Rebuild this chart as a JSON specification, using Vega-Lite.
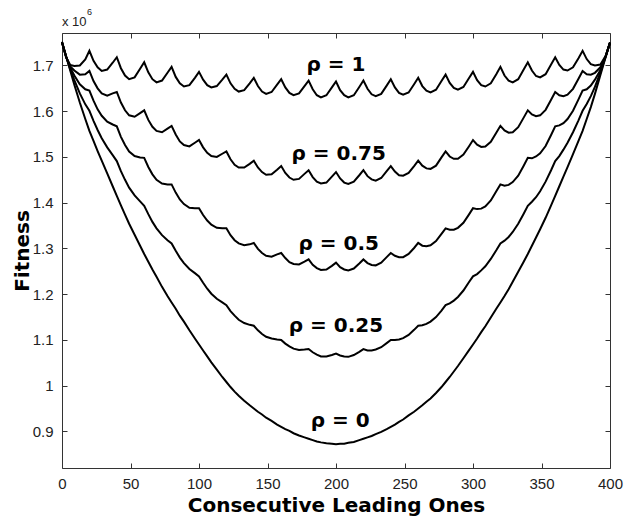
{
"$schema":"https://vega.github.io/schema/vega-lite/v6.json",
"width":548,"height":435,
"autosize":"none",
"padding":{"left":62,"top":33,"right":14,"bottom":50},
"background":"white",
"config":{"view":{"stroke":null},"font":"Liberation Sans"},
"datasets":{
"curves":[
{"s":"1","x":0,"y":1.752},{"s":"1","x":3,"y":1.718},{"s":"1","x":6,"y":1.701},{"s":"1","x":9,"y":1.699},{"s":"1","x":13,"y":1.700},{"s":"1","x":17,"y":1.713},{"s":"1","x":20,"y":1.732},
{"s":"1","x":23,"y":1.710},{"s":"1","x":26,"y":1.696},{"s":"1","x":29,"y":1.688},{"s":"1","x":33,"y":1.691},{"s":"1","x":37,"y":1.706},{"s":"1","x":40,"y":1.718},
{"s":"1","x":43,"y":1.694},{"s":"1","x":46,"y":1.678},{"s":"1","x":49,"y":1.670},{"s":"1","x":53,"y":1.674},{"s":"1","x":57,"y":1.693},{"s":"1","x":60,"y":1.707},
{"s":"1","x":63,"y":1.685},{"s":"1","x":66,"y":1.670},{"s":"1","x":69,"y":1.663},{"s":"1","x":73,"y":1.667},{"s":"1","x":77,"y":1.684},{"s":"1","x":80,"y":1.697},
{"s":"1","x":83,"y":1.675},{"s":"1","x":86,"y":1.661},{"s":"1","x":89,"y":1.654},{"s":"1","x":93,"y":1.657},{"s":"1","x":97,"y":1.673},{"s":"1","x":100,"y":1.686},
{"s":"1","x":103,"y":1.669},{"s":"1","x":106,"y":1.657},{"s":"1","x":109,"y":1.652},{"s":"1","x":113,"y":1.655},{"s":"1","x":117,"y":1.669},{"s":"1","x":120,"y":1.680},
{"s":"1","x":123,"y":1.661},{"s":"1","x":126,"y":1.649},{"s":"1","x":129,"y":1.643},{"s":"1","x":133,"y":1.646},{"s":"1","x":137,"y":1.661},{"s":"1","x":140,"y":1.673},
{"s":"1","x":143,"y":1.655},{"s":"1","x":146,"y":1.643},{"s":"1","x":149,"y":1.638},{"s":"1","x":153,"y":1.642},{"s":"1","x":157,"y":1.658},{"s":"1","x":160,"y":1.670},
{"s":"1","x":163,"y":1.652},{"s":"1","x":166,"y":1.640},{"s":"1","x":169,"y":1.635},{"s":"1","x":173,"y":1.639},{"s":"1","x":177,"y":1.655},{"s":"1","x":180,"y":1.667},
{"s":"1","x":183,"y":1.648},{"s":"1","x":186,"y":1.635},{"s":"1","x":189,"y":1.630},{"s":"1","x":193,"y":1.635},{"s":"1","x":197,"y":1.652},{"s":"1","x":200,"y":1.665},
{"s":"1","x":203,"y":1.646},{"s":"1","x":206,"y":1.635},{"s":"1","x":209,"y":1.630},{"s":"1","x":213,"y":1.635},{"s":"1","x":217,"y":1.653},{"s":"1","x":220,"y":1.667},
{"s":"1","x":223,"y":1.649},{"s":"1","x":226,"y":1.637},{"s":"1","x":229,"y":1.633},{"s":"1","x":233,"y":1.638},{"s":"1","x":237,"y":1.656},{"s":"1","x":240,"y":1.670},
{"s":"1","x":243,"y":1.652},{"s":"1","x":246,"y":1.640},{"s":"1","x":249,"y":1.636},{"s":"1","x":253,"y":1.641},{"s":"1","x":257,"y":1.659},{"s":"1","x":260,"y":1.673},
{"s":"1","x":263,"y":1.655},{"s":"1","x":266,"y":1.645},{"s":"1","x":269,"y":1.641},{"s":"1","x":273,"y":1.647},{"s":"1","x":277,"y":1.666},{"s":"1","x":280,"y":1.680},
{"s":"1","x":283,"y":1.662},{"s":"1","x":286,"y":1.651},{"s":"1","x":289,"y":1.647},{"s":"1","x":293,"y":1.653},{"s":"1","x":297,"y":1.672},{"s":"1","x":300,"y":1.686},
{"s":"1","x":303,"y":1.668},{"s":"1","x":306,"y":1.657},{"s":"1","x":309,"y":1.654},{"s":"1","x":313,"y":1.661},{"s":"1","x":317,"y":1.681},{"s":"1","x":320,"y":1.697},
{"s":"1","x":323,"y":1.678},{"s":"1","x":326,"y":1.667},{"s":"1","x":329,"y":1.663},{"s":"1","x":333,"y":1.670},{"s":"1","x":337,"y":1.691},{"s":"1","x":340,"y":1.707},
{"s":"1","x":343,"y":1.689},{"s":"1","x":346,"y":1.677},{"s":"1","x":349,"y":1.674},{"s":"1","x":353,"y":1.681},{"s":"1","x":357,"y":1.702},{"s":"1","x":360,"y":1.718},
{"s":"1","x":363,"y":1.701},{"s":"1","x":366,"y":1.691},{"s":"1","x":369,"y":1.689},{"s":"1","x":373,"y":1.696},{"s":"1","x":377,"y":1.716},{"s":"1","x":380,"y":1.732},
{"s":"1","x":383,"y":1.714},{"s":"1","x":386,"y":1.703},{"s":"1","x":389,"y":1.700},{"s":"1","x":393,"y":1.702},{"s":"1","x":397,"y":1.722},{"s":"1","x":400,"y":1.750},
{"s":"0.75","x":0,"y":1.751},{"s":"0.75","x":3,"y":1.718},{"s":"0.75","x":6,"y":1.698},{"s":"0.75","x":9,"y":1.689},{"s":"0.75","x":13,"y":1.680},{"s":"0.75","x":17,"y":1.681},{"s":"0.75","x":20,"y":1.688},
{"s":"0.75","x":23,"y":1.666},{"s":"0.75","x":26,"y":1.650},{"s":"0.75","x":29,"y":1.639},{"s":"0.75","x":33,"y":1.634},{"s":"0.75","x":37,"y":1.639},{"s":"0.75","x":40,"y":1.642},
{"s":"0.75","x":43,"y":1.619},{"s":"0.75","x":46,"y":1.602},{"s":"0.75","x":49,"y":1.591},{"s":"0.75","x":53,"y":1.588},{"s":"0.75","x":57,"y":1.596},{"s":"0.75","x":60,"y":1.602},
{"s":"0.75","x":63,"y":1.581},{"s":"0.75","x":66,"y":1.566},{"s":"0.75","x":69,"y":1.557},{"s":"0.75","x":73,"y":1.554},{"s":"0.75","x":77,"y":1.562},{"s":"0.75","x":80,"y":1.568},
{"s":"0.75","x":83,"y":1.549},{"s":"0.75","x":86,"y":1.534},{"s":"0.75","x":89,"y":1.526},{"s":"0.75","x":93,"y":1.523},{"s":"0.75","x":97,"y":1.531},{"s":"0.75","x":100,"y":1.537},
{"s":"0.75","x":103,"y":1.521},{"s":"0.75","x":106,"y":1.509},{"s":"0.75","x":109,"y":1.502},{"s":"0.75","x":113,"y":1.500},{"s":"0.75","x":117,"y":1.507},{"s":"0.75","x":120,"y":1.512},
{"s":"0.75","x":123,"y":1.495},{"s":"0.75","x":126,"y":1.483},{"s":"0.75","x":129,"y":1.477},{"s":"0.75","x":133,"y":1.477},{"s":"0.75","x":137,"y":1.485},{"s":"0.75","x":140,"y":1.492},
{"s":"0.75","x":143,"y":1.477},{"s":"0.75","x":146,"y":1.467},{"s":"0.75","x":149,"y":1.461},{"s":"0.75","x":153,"y":1.462},{"s":"0.75","x":157,"y":1.472},{"s":"0.75","x":160,"y":1.480},
{"s":"0.75","x":163,"y":1.465},{"s":"0.75","x":166,"y":1.455},{"s":"0.75","x":169,"y":1.450},{"s":"0.75","x":173,"y":1.452},{"s":"0.75","x":177,"y":1.463},{"s":"0.75","x":180,"y":1.471},
{"s":"0.75","x":183,"y":1.456},{"s":"0.75","x":186,"y":1.446},{"s":"0.75","x":189,"y":1.442},{"s":"0.75","x":193,"y":1.444},{"s":"0.75","x":197,"y":1.457},{"s":"0.75","x":200,"y":1.467},
{"s":"0.75","x":203,"y":1.453},{"s":"0.75","x":206,"y":1.444},{"s":"0.75","x":209,"y":1.441},{"s":"0.75","x":213,"y":1.446},{"s":"0.75","x":217,"y":1.460},{"s":"0.75","x":220,"y":1.471},
{"s":"0.75","x":223,"y":1.458},{"s":"0.75","x":226,"y":1.451},{"s":"0.75","x":229,"y":1.448},{"s":"0.75","x":233,"y":1.454},{"s":"0.75","x":237,"y":1.469},{"s":"0.75","x":240,"y":1.480},
{"s":"0.75","x":243,"y":1.468},{"s":"0.75","x":246,"y":1.460},{"s":"0.75","x":249,"y":1.459},{"s":"0.75","x":253,"y":1.465},{"s":"0.75","x":257,"y":1.480},{"s":"0.75","x":260,"y":1.492},
{"s":"0.75","x":263,"y":1.481},{"s":"0.75","x":266,"y":1.475},{"s":"0.75","x":269,"y":1.474},{"s":"0.75","x":273,"y":1.481},{"s":"0.75","x":277,"y":1.499},{"s":"0.75","x":280,"y":1.512},
{"s":"0.75","x":283,"y":1.501},{"s":"0.75","x":286,"y":1.496},{"s":"0.75","x":289,"y":1.496},{"s":"0.75","x":293,"y":1.505},{"s":"0.75","x":297,"y":1.523},{"s":"0.75","x":300,"y":1.537},
{"s":"0.75","x":303,"y":1.527},{"s":"0.75","x":306,"y":1.522},{"s":"0.75","x":309,"y":1.523},{"s":"0.75","x":313,"y":1.533},{"s":"0.75","x":317,"y":1.553},{"s":"0.75","x":320,"y":1.568},
{"s":"0.75","x":323,"y":1.558},{"s":"0.75","x":326,"y":1.553},{"s":"0.75","x":329,"y":1.554},{"s":"0.75","x":333,"y":1.565},{"s":"0.75","x":337,"y":1.586},{"s":"0.75","x":340,"y":1.602},
{"s":"0.75","x":343,"y":1.593},{"s":"0.75","x":346,"y":1.589},{"s":"0.75","x":349,"y":1.591},{"s":"0.75","x":353,"y":1.603},{"s":"0.75","x":357,"y":1.625},{"s":"0.75","x":360,"y":1.642},
{"s":"0.75","x":363,"y":1.635},{"s":"0.75","x":366,"y":1.633},{"s":"0.75","x":369,"y":1.636},{"s":"0.75","x":373,"y":1.649},{"s":"0.75","x":377,"y":1.671},{"s":"0.75","x":380,"y":1.688},
{"s":"0.75","x":383,"y":1.681},{"s":"0.75","x":386,"y":1.680},{"s":"0.75","x":389,"y":1.684},{"s":"0.75","x":393,"y":1.696},{"s":"0.75","x":397,"y":1.722},{"s":"0.75","x":400,"y":1.750},
{"s":"0.5","x":0,"y":1.751},{"s":"0.5","x":3,"y":1.719},{"s":"0.5","x":6,"y":1.695},{"s":"0.5","x":9,"y":1.678},{"s":"0.5","x":13,"y":1.659},{"s":"0.5","x":17,"y":1.648},{"s":"0.5","x":20,"y":1.645},
{"s":"0.5","x":23,"y":1.623},{"s":"0.5","x":26,"y":1.604},{"s":"0.5","x":29,"y":1.590},{"s":"0.5","x":33,"y":1.577},{"s":"0.5","x":37,"y":1.571},{"s":"0.5","x":40,"y":1.567},
{"s":"0.5","x":43,"y":1.544},{"s":"0.5","x":46,"y":1.526},{"s":"0.5","x":49,"y":1.512},{"s":"0.5","x":53,"y":1.502},{"s":"0.5","x":57,"y":1.499},{"s":"0.5","x":60,"y":1.498},
{"s":"0.5","x":63,"y":1.478},{"s":"0.5","x":66,"y":1.462},{"s":"0.5","x":69,"y":1.450},{"s":"0.5","x":73,"y":1.442},{"s":"0.5","x":77,"y":1.440},{"s":"0.5","x":80,"y":1.440},
{"s":"0.5","x":83,"y":1.422},{"s":"0.5","x":86,"y":1.407},{"s":"0.5","x":89,"y":1.397},{"s":"0.5","x":93,"y":1.389},{"s":"0.5","x":97,"y":1.388},{"s":"0.5","x":100,"y":1.388},
{"s":"0.5","x":103,"y":1.373},{"s":"0.5","x":106,"y":1.361},{"s":"0.5","x":109,"y":1.352},{"s":"0.5","x":113,"y":1.345},{"s":"0.5","x":117,"y":1.344},{"s":"0.5","x":120,"y":1.344},
{"s":"0.5","x":123,"y":1.329},{"s":"0.5","x":126,"y":1.318},{"s":"0.5","x":129,"y":1.311},{"s":"0.5","x":133,"y":1.307},{"s":"0.5","x":137,"y":1.309},{"s":"0.5","x":140,"y":1.312},
{"s":"0.5","x":143,"y":1.299},{"s":"0.5","x":146,"y":1.290},{"s":"0.5","x":149,"y":1.284},{"s":"0.5","x":153,"y":1.282},{"s":"0.5","x":157,"y":1.287},{"s":"0.5","x":160,"y":1.290},
{"s":"0.5","x":163,"y":1.279},{"s":"0.5","x":166,"y":1.270},{"s":"0.5","x":169,"y":1.266},{"s":"0.5","x":173,"y":1.265},{"s":"0.5","x":177,"y":1.271},{"s":"0.5","x":180,"y":1.276},
{"s":"0.5","x":183,"y":1.264},{"s":"0.5","x":186,"y":1.257},{"s":"0.5","x":189,"y":1.253},{"s":"0.5","x":193,"y":1.254},{"s":"0.5","x":197,"y":1.262},{"s":"0.5","x":200,"y":1.269},
{"s":"0.5","x":203,"y":1.259},{"s":"0.5","x":206,"y":1.254},{"s":"0.5","x":209,"y":1.252},{"s":"0.5","x":213,"y":1.256},{"s":"0.5","x":217,"y":1.267},{"s":"0.5","x":220,"y":1.276},
{"s":"0.5","x":223,"y":1.268},{"s":"0.5","x":226,"y":1.264},{"s":"0.5","x":229,"y":1.263},{"s":"0.5","x":233,"y":1.269},{"s":"0.5","x":237,"y":1.281},{"s":"0.5","x":240,"y":1.290},
{"s":"0.5","x":243,"y":1.284},{"s":"0.5","x":246,"y":1.281},{"s":"0.5","x":249,"y":1.281},{"s":"0.5","x":253,"y":1.288},{"s":"0.5","x":257,"y":1.301},{"s":"0.5","x":260,"y":1.312},
{"s":"0.5","x":263,"y":1.306},{"s":"0.5","x":266,"y":1.305},{"s":"0.5","x":269,"y":1.307},{"s":"0.5","x":273,"y":1.316},{"s":"0.5","x":277,"y":1.332},{"s":"0.5","x":280,"y":1.344},
{"s":"0.5","x":283,"y":1.341},{"s":"0.5","x":286,"y":1.341},{"s":"0.5","x":289,"y":1.345},{"s":"0.5","x":293,"y":1.356},{"s":"0.5","x":297,"y":1.374},{"s":"0.5","x":300,"y":1.388},
{"s":"0.5","x":303,"y":1.386},{"s":"0.5","x":306,"y":1.387},{"s":"0.5","x":309,"y":1.392},{"s":"0.5","x":313,"y":1.405},{"s":"0.5","x":317,"y":1.425},{"s":"0.5","x":320,"y":1.440},
{"s":"0.5","x":323,"y":1.437},{"s":"0.5","x":326,"y":1.439},{"s":"0.5","x":329,"y":1.445},{"s":"0.5","x":333,"y":1.459},{"s":"0.5","x":337,"y":1.481},{"s":"0.5","x":340,"y":1.498},
{"s":"0.5","x":343,"y":1.497},{"s":"0.5","x":346,"y":1.501},{"s":"0.5","x":349,"y":1.508},{"s":"0.5","x":353,"y":1.524},{"s":"0.5","x":357,"y":1.548},{"s":"0.5","x":360,"y":1.567},
{"s":"0.5","x":363,"y":1.569},{"s":"0.5","x":366,"y":1.574},{"s":"0.5","x":369,"y":1.583},{"s":"0.5","x":373,"y":1.601},{"s":"0.5","x":377,"y":1.626},{"s":"0.5","x":380,"y":1.645},
{"s":"0.5","x":383,"y":1.648},{"s":"0.5","x":386,"y":1.656},{"s":"0.5","x":389,"y":1.669},{"s":"0.5","x":393,"y":1.690},{"s":"0.5","x":397,"y":1.721},{"s":"0.5","x":400,"y":1.750},
{"s":"0.25","x":0,"y":1.751},{"s":"0.25","x":3,"y":1.720},{"s":"0.25","x":6,"y":1.692},{"s":"0.25","x":9,"y":1.668},{"s":"0.25","x":13,"y":1.639},{"s":"0.25","x":17,"y":1.615},{"s":"0.25","x":20,"y":1.601},
{"s":"0.25","x":23,"y":1.579},{"s":"0.25","x":26,"y":1.559},{"s":"0.25","x":29,"y":1.541},{"s":"0.25","x":33,"y":1.521},{"s":"0.25","x":37,"y":1.504},{"s":"0.25","x":40,"y":1.491},
{"s":"0.25","x":43,"y":1.469},{"s":"0.25","x":46,"y":1.450},{"s":"0.25","x":49,"y":1.433},{"s":"0.25","x":53,"y":1.416},{"s":"0.25","x":57,"y":1.403},{"s":"0.25","x":60,"y":1.393},
{"s":"0.25","x":63,"y":1.375},{"s":"0.25","x":66,"y":1.358},{"s":"0.25","x":69,"y":1.344},{"s":"0.25","x":73,"y":1.329},{"s":"0.25","x":77,"y":1.318},{"s":"0.25","x":80,"y":1.311},
{"s":"0.25","x":83,"y":1.295},{"s":"0.25","x":86,"y":1.280},{"s":"0.25","x":89,"y":1.268},{"s":"0.25","x":93,"y":1.255},{"s":"0.25","x":97,"y":1.246},{"s":"0.25","x":100,"y":1.239},
{"s":"0.25","x":103,"y":1.225},{"s":"0.25","x":106,"y":1.212},{"s":"0.25","x":109,"y":1.201},{"s":"0.25","x":113,"y":1.190},{"s":"0.25","x":117,"y":1.182},{"s":"0.25","x":120,"y":1.176},
{"s":"0.25","x":123,"y":1.163},{"s":"0.25","x":126,"y":1.153},{"s":"0.25","x":129,"y":1.144},{"s":"0.25","x":133,"y":1.137},{"s":"0.25","x":137,"y":1.133},{"s":"0.25","x":140,"y":1.131},
{"s":"0.25","x":143,"y":1.121},{"s":"0.25","x":146,"y":1.113},{"s":"0.25","x":149,"y":1.107},{"s":"0.25","x":153,"y":1.103},{"s":"0.25","x":157,"y":1.101},{"s":"0.25","x":160,"y":1.100},
{"s":"0.25","x":163,"y":1.092},{"s":"0.25","x":166,"y":1.086},{"s":"0.25","x":169,"y":1.081},{"s":"0.25","x":173,"y":1.078},{"s":"0.25","x":177,"y":1.079},{"s":"0.25","x":180,"y":1.080},
{"s":"0.25","x":183,"y":1.073},{"s":"0.25","x":186,"y":1.068},{"s":"0.25","x":189,"y":1.064},{"s":"0.25","x":193,"y":1.064},{"s":"0.25","x":197,"y":1.067},{"s":"0.25","x":200,"y":1.070},
{"s":"0.25","x":203,"y":1.066},{"s":"0.25","x":206,"y":1.064},{"s":"0.25","x":209,"y":1.063},{"s":"0.25","x":213,"y":1.067},{"s":"0.25","x":217,"y":1.074},{"s":"0.25","x":220,"y":1.080},
{"s":"0.25","x":223,"y":1.077},{"s":"0.25","x":226,"y":1.077},{"s":"0.25","x":229,"y":1.079},{"s":"0.25","x":233,"y":1.084},{"s":"0.25","x":237,"y":1.093},{"s":"0.25","x":240,"y":1.100},
{"s":"0.25","x":243,"y":1.100},{"s":"0.25","x":246,"y":1.101},{"s":"0.25","x":249,"y":1.104},{"s":"0.25","x":253,"y":1.111},{"s":"0.25","x":257,"y":1.122},{"s":"0.25","x":260,"y":1.131},
{"s":"0.25","x":263,"y":1.132},{"s":"0.25","x":266,"y":1.135},{"s":"0.25","x":269,"y":1.140},{"s":"0.25","x":273,"y":1.150},{"s":"0.25","x":277,"y":1.164},{"s":"0.25","x":280,"y":1.176},
{"s":"0.25","x":283,"y":1.180},{"s":"0.25","x":286,"y":1.186},{"s":"0.25","x":289,"y":1.194},{"s":"0.25","x":293,"y":1.208},{"s":"0.25","x":297,"y":1.226},{"s":"0.25","x":300,"y":1.239},
{"s":"0.25","x":303,"y":1.244},{"s":"0.25","x":306,"y":1.252},{"s":"0.25","x":309,"y":1.261},{"s":"0.25","x":313,"y":1.277},{"s":"0.25","x":317,"y":1.296},{"s":"0.25","x":320,"y":1.311},
{"s":"0.25","x":323,"y":1.317},{"s":"0.25","x":326,"y":1.325},{"s":"0.25","x":329,"y":1.336},{"s":"0.25","x":333,"y":1.354},{"s":"0.25","x":337,"y":1.376},{"s":"0.25","x":340,"y":1.393},
{"s":"0.25","x":343,"y":1.402},{"s":"0.25","x":346,"y":1.412},{"s":"0.25","x":349,"y":1.425},{"s":"0.25","x":353,"y":1.446},{"s":"0.25","x":357,"y":1.471},{"s":"0.25","x":360,"y":1.491},
{"s":"0.25","x":363,"y":1.502},{"s":"0.25","x":366,"y":1.516},{"s":"0.25","x":369,"y":1.531},{"s":"0.25","x":373,"y":1.554},{"s":"0.25","x":377,"y":1.580},{"s":"0.25","x":380,"y":1.601},
{"s":"0.25","x":383,"y":1.616},{"s":"0.25","x":386,"y":1.633},{"s":"0.25","x":389,"y":1.653},{"s":"0.25","x":393,"y":1.685},{"s":"0.25","x":397,"y":1.721},{"s":"0.25","x":400,"y":1.750},
{"s":"0","x":0,"y":1.750},{"s":"0","x":3,"y":1.720},{"s":"0","x":6,"y":1.689},{"s":"0","x":9,"y":1.658},{"s":"0","x":13,"y":1.619},{"s":"0","x":17,"y":1.583},{"s":"0","x":20,"y":1.557},
{"s":"0","x":23,"y":1.535},{"s":"0","x":26,"y":1.513},{"s":"0","x":29,"y":1.492},{"s":"0","x":33,"y":1.464},{"s":"0","x":37,"y":1.436},{"s":"0","x":40,"y":1.415},
{"s":"0","x":43,"y":1.394},{"s":"0","x":46,"y":1.374},{"s":"0","x":49,"y":1.354},{"s":"0","x":53,"y":1.330},{"s":"0","x":57,"y":1.306},{"s":"0","x":60,"y":1.288},
{"s":"0","x":63,"y":1.271},{"s":"0","x":66,"y":1.254},{"s":"0","x":69,"y":1.238},{"s":"0","x":73,"y":1.216},{"s":"0","x":77,"y":1.196},{"s":"0","x":80,"y":1.182},
{"s":"0","x":83,"y":1.168},{"s":"0","x":86,"y":1.153},{"s":"0","x":89,"y":1.140},{"s":"0","x":93,"y":1.121},{"s":"0","x":97,"y":1.103},{"s":"0","x":100,"y":1.090},
{"s":"0","x":103,"y":1.077},{"s":"0","x":106,"y":1.064},{"s":"0","x":109,"y":1.051},{"s":"0","x":113,"y":1.035},{"s":"0","x":117,"y":1.019},{"s":"0","x":120,"y":1.008},
{"s":"0","x":123,"y":0.997},{"s":"0","x":126,"y":0.987},{"s":"0","x":129,"y":0.978},{"s":"0","x":133,"y":0.967},{"s":"0","x":137,"y":0.957},{"s":"0","x":140,"y":0.950},
{"s":"0","x":143,"y":0.943},{"s":"0","x":146,"y":0.937},{"s":"0","x":149,"y":0.930},{"s":"0","x":153,"y":0.923},{"s":"0","x":157,"y":0.915},{"s":"0","x":160,"y":0.910},
{"s":"0","x":163,"y":0.905},{"s":"0","x":166,"y":0.901},{"s":"0","x":169,"y":0.896},{"s":"0","x":173,"y":0.891},{"s":"0","x":177,"y":0.887},{"s":"0","x":180,"y":0.884},
{"s":"0","x":183,"y":0.881},{"s":"0","x":186,"y":0.878},{"s":"0","x":189,"y":0.876},{"s":"0","x":193,"y":0.874},{"s":"0","x":197,"y":0.873},{"s":"0","x":200,"y":0.872},
{"s":"0","x":203,"y":0.873},{"s":"0","x":206,"y":0.873},{"s":"0","x":209,"y":0.875},{"s":"0","x":213,"y":0.877},{"s":"0","x":217,"y":0.881},{"s":"0","x":220,"y":0.884},
{"s":"0","x":223,"y":0.887},{"s":"0","x":226,"y":0.890},{"s":"0","x":229,"y":0.894},{"s":"0","x":233,"y":0.899},{"s":"0","x":237,"y":0.905},{"s":"0","x":240,"y":0.910},
{"s":"0","x":243,"y":0.915},{"s":"0","x":246,"y":0.921},{"s":"0","x":249,"y":0.926},{"s":"0","x":253,"y":0.935},{"s":"0","x":257,"y":0.943},{"s":"0","x":260,"y":0.950},
{"s":"0","x":263,"y":0.957},{"s":"0","x":266,"y":0.965},{"s":"0","x":269,"y":0.972},{"s":"0","x":273,"y":0.984},{"s":"0","x":277,"y":0.997},{"s":"0","x":280,"y":1.008},
{"s":"0","x":283,"y":1.019},{"s":"0","x":286,"y":1.031},{"s":"0","x":289,"y":1.043},{"s":"0","x":293,"y":1.060},{"s":"0","x":297,"y":1.077},{"s":"0","x":300,"y":1.090},
{"s":"0","x":303,"y":1.103},{"s":"0","x":306,"y":1.117},{"s":"0","x":309,"y":1.130},{"s":"0","x":313,"y":1.149},{"s":"0","x":317,"y":1.168},{"s":"0","x":320,"y":1.182},
{"s":"0","x":323,"y":1.196},{"s":"0","x":326,"y":1.211},{"s":"0","x":329,"y":1.227},{"s":"0","x":333,"y":1.249},{"s":"0","x":337,"y":1.271},{"s":"0","x":340,"y":1.288},
{"s":"0","x":343,"y":1.306},{"s":"0","x":346,"y":1.324},{"s":"0","x":349,"y":1.342},{"s":"0","x":353,"y":1.367},{"s":"0","x":357,"y":1.394},{"s":"0","x":360,"y":1.415},
{"s":"0","x":363,"y":1.436},{"s":"0","x":366,"y":1.457},{"s":"0","x":369,"y":1.478},{"s":"0","x":373,"y":1.506},{"s":"0","x":377,"y":1.535},{"s":"0","x":380,"y":1.557},
{"s":"0","x":383,"y":1.583},{"s":"0","x":386,"y":1.609},{"s":"0","x":389,"y":1.638},{"s":"0","x":393,"y":1.679},{"s":"0","x":397,"y":1.720},{"s":"0","x":400,"y":1.750}
],
"labels":[
{"x":200,"y":1.701,"t":"ρ = 1"},
{"x":202,"y":1.507,"t":"ρ = 0.75"},
{"x":202,"y":1.310,"t":"ρ = 0.5"},
{"x":200,"y":1.1295,"t":"ρ = 0.25"},
{"x":203,"y":0.9234,"t":"ρ = 0"}
],
"mult":[{"x":0,"y":1.771,"t":"x 10","e":"6"}]
},
"layer":[
{"data":{"name":"curves"},
 "mark":{"type":"line","color":"black","strokeWidth":2},
 "encoding":{
  "x":{"field":"x","type":"quantitative","scale":{"domain":[0,400],"nice":false,"zero":false},
   "axis":{"orient":"bottom","values":[0,50,100,150,200,250,300,350,400],"grid":false,"domainColor":"#333","tickColor":"#333","tickSize":-5,"labelPadding":13,"labelFontSize":15,"labelColor":"#222","labelFont":"Liberation Sans","labelFlush":false,"title":"Consecutive Leading Ones","titleFont":"DejaVu Sans","titleFontSize":20,"titleFontWeight":"bold","titleColor":"black","titleBaseline":"alphabetic","titleY":43}},
  "y":{"field":"y","type":"quantitative","scale":{"domain":[0.82,1.771],"nice":false,"zero":false},
   "axis":{"orient":"left","values":[0.9,1,1.1,1.2,1.3,1.4,1.5,1.6,1.7],"format":"~g","grid":false,"domainColor":"#333","tickColor":"#333","tickSize":-5,"labelPadding":14,"labelFontSize":15,"labelColor":"#222","labelFont":"Liberation Sans","title":"Fitness","titleFont":"DejaVu Sans","titleFontSize":20,"titleFontWeight":"bold","titleColor":"black","titleBaseline":"alphabetic","titleX":-34}},
  "detail":{"field":"s"}}},
{"data":{"name":"labels"},
 "mark":{"type":"text","font":"DejaVu Sans","fontWeight":"bold","fontSize":20,"align":"center","baseline":"middle","color":"black"},
 "encoding":{
  "x":{"field":"x","type":"quantitative","axis":{"orient":"top","values":[0,50,100,150,200,250,300,350,400],"labels":false,"title":null,"grid":false,"domainColor":"#333","tickColor":"#333","tickSize":-5}},
  "y":{"field":"y","type":"quantitative","axis":{"orient":"right","values":[0.9,1,1.1,1.2,1.3,1.4,1.5,1.6,1.7],"labels":false,"title":null,"grid":false,"domainColor":"#333","tickColor":"#333","tickSize":-5}},
  "text":{"field":"t"}}},
{"data":{"name":"mult"},
 "mark":{"type":"text","font":"Liberation Sans","fontSize":13,"align":"left","baseline":"alphabetic","dy":-7,"color":"#222"},
 "encoding":{
  "x":{"field":"x","type":"quantitative","axis":null},
  "y":{"field":"y","type":"quantitative","axis":null},
  "text":{"field":"t"}}},
{"data":{"name":"mult"},
 "mark":{"type":"text","font":"Liberation Sans","fontSize":9,"align":"left","baseline":"alphabetic","dx":25,"dy":-18,"color":"#222"},
 "encoding":{
  "x":{"field":"x","type":"quantitative","axis":null},
  "y":{"field":"y","type":"quantitative","axis":null},
  "text":{"field":"e"}}}
]
}
